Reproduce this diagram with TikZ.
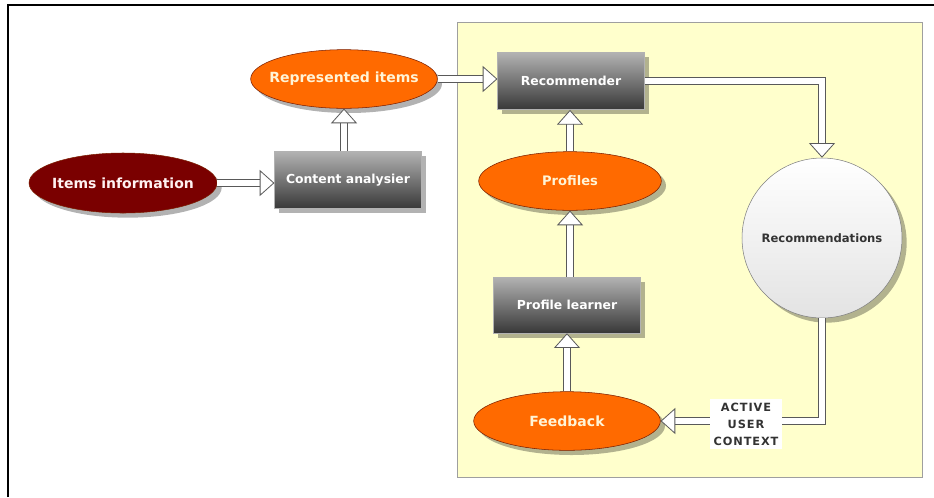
\documentclass[tikz,border=0pt]{standalone}
\usepackage{fontspec}
\setmainfont{DejaVu Sans}
\newfontfamily\ctxfont[LetterSpace=8]{DejaVu Sans}
\usetikzlibrary{shapes.geometric,shadows,arrows.meta}

\definecolor{itemred}{HTML}{7A0000}
\definecolor{blobfill}{HTML}{FF6A00}
\definecolor{blobline}{HTML}{7A1E00}
\definecolor{blobtext}{HTML}{FFF4D6}
\definecolor{panel}{HTML}{FFFFCC}

\begin{document}
\begin{tikzpicture}[x=0.75pt,y=-0.75pt,
  shade/.style={drop shadow={shadow xshift=3.5pt, shadow yshift=-3.5pt, fill=black, opacity=0.3}},
  blob/.style={ellipse, shade, draw=blobline, thin, fill=blobfill, text=blobtext,
    minimum width=140pt, minimum height=44pt, inner xsep=-14pt, inner ysep=0pt,
    font=\bfseries\fontsize{10.5}{12}\selectfont},
  box/.style={rectangle, shade, draw=gray!60, thin, top color=gray!60, bottom color=black!78,
    text=white, minimum width=110pt, minimum height=43pt, inner sep=0pt,
    font=\bfseries\fontsize{9.3}{11}\selectfont},
  flow/.style={draw=black!65, line width=0.6pt, double=white, double distance=5pt,
    -{Triangle[fill=white, line width=0.6pt, width=19.5pt, length=11pt]}}]
\useasboundingbox (0,0) rectangle (934,497);
% frame and the yellow panel
\draw[black, line width=1.1pt] (8,497) -- (8,5) -- (934,5);
\draw[gray!75, fill=panel] (457,22) rectangle (922,477);
% outside the panel
\node[blob, fill=itemred, text=red!5, minimum width=141pt, minimum height=45pt] (info) at (123,183) {Items information};
\node[box] (ca) at (348,180) {Content analysier};
\node[blob] (rep) at (344,79) {Represented items};
% inside the panel
\node[box] (rec) at (571,81) {Recommender};
\node[blob, minimum width=137pt, font=\bfseries\fontsize{9.8}{12}\selectfont] (prof) at (570,181) {Profiles};
\node[box, minimum height=42pt] (learner) at (567,305) {Profile learner};
\node[blob] (fb) at (567,421) {Feedback};
\node[circle, shade, draw=gray, thin, top color=white, bottom color=gray!22,
  minimum size=120pt, inner sep=0pt, text=black!80,
  font=\bfseries\fontsize{8.7}{10}\selectfont] (recs) at (822,238) {Recommendations};
%------------------
\draw[flow] (info.east) -- (info.east -| ca.west);
\draw[flow] (ca.north -| rep.south) -- (rep.south);
\draw[flow] (rep.east) -- (rep.east -| rec.west);
\draw[flow] (prof.north) -- (prof.north |- rec.south);
\draw[flow] (learner.north -| prof.south) -- (prof.south);
\draw[flow] (fb.north) -- (fb.north |- learner.south);
\draw[flow] (rec.east) -| (recs.north);
\draw[flow] (recs.south) |- (fb.east);
\node[fill=white, align=center, inner sep=2.5pt, text=black!80,
  font=\ctxfont\bfseries\fontsize{8.5}{12.7}\selectfont] (ctx) at (746,424) {ACTIVE\\USER\\CONTEXT};
\end{tikzpicture}
\end{document}
